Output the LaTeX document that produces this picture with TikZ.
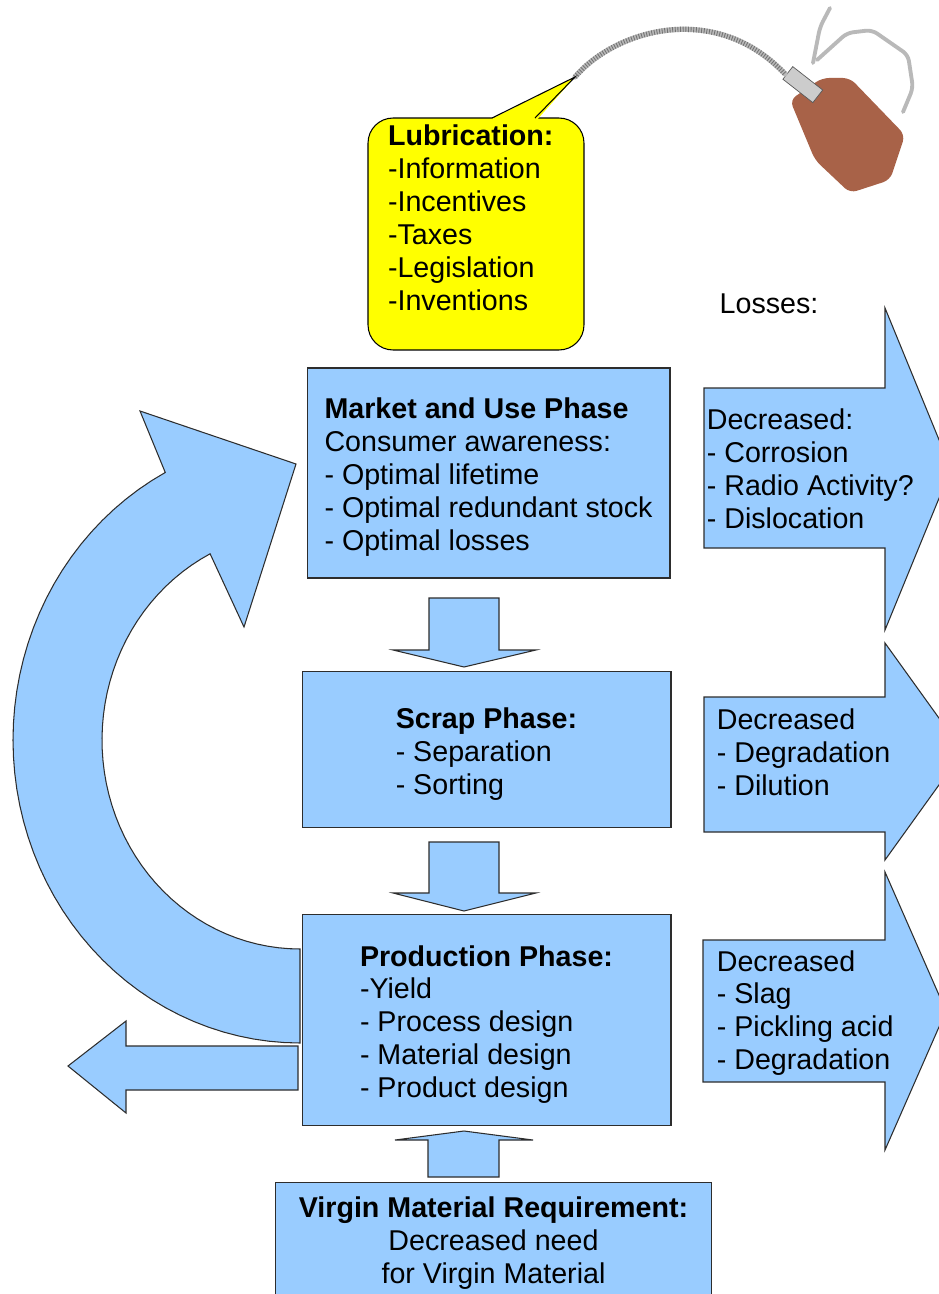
\documentclass[tikz,border=0pt]{standalone}
\usepackage{fontspec}
\setmainfont{Liberation Sans}
\usepackage{xcolor}
\usepackage{tikz}
\usetikzlibrary{positioning,calc}
\definecolor{phaseblue}{RGB}{153,204,255}
\definecolor{lubeyellow}{RGB}{255,255,0}
\definecolor{canbrown}{RGB}{168,98,72}
\definecolor{edgegray}{RGB}{45,45,45}
\tikzset{
    phase/.style={rectangle, draw=edgegray, fill=phaseblue, line width=0.6pt, align=left, inner sep=0pt, outer sep=0pt},
    bigarrow/.style={draw=edgegray, fill=phaseblue, line width=0.6pt},
    losstext/.style={align=left, inner sep=2pt, anchor=west},
    lubebox/.style={rectangle, draw=black, fill=lubeyellow, rounded corners=0.5cm, line width=0.6pt, align=left, text width=3.52cm, inner sep=0pt, outer sep=0pt},
    spoutline/.style={draw=gray!55, line width=3pt, line cap=round},
    handle/.style={draw=gray!55, line width=2.2pt, line cap=round, rounded corners=0.12cm}
}

\begin{document}
\begin{tikzpicture}[x=0.02cm, y=-0.02cm, font=\fontsize{16.3}{18.7}\selectfont]
    \useasboundingbox (0,0) rectangle (938,1294);

    % Oil can
    \coordinate (spout) at (575,77);
    \draw[handle] (813,63) -- (820,27) -- (830,8);
    \draw[handle] (817,60) -- (847,33) -- (872,30) -- (908,55) -- (913,88) -- (903,112);
    \fill[canbrown, rounded corners=0.14cm] (790,100) -- (822,78) -- (850,78) -- (905,135) -- (890,180) -- (850,193) -- (815,160) -- cycle;
    \filldraw[fill=gray!40, draw=gray!70!black, line width=0.4pt, rotate around={-38:(802,84)}] (784,76) rectangle (822,92);
    \draw[spoutline] (spout) .. controls (615,30) and (715,0) .. (785,74);
    \draw[draw=gray!90!black, line width=3pt, dash pattern=on 0.5pt off 1pt] (spout) .. controls (615,30) and (715,0) .. (785,74);

    % Lubrication callout
    \node [lubebox, minimum width=4.32cm, minimum height=4.64cm] (lubri) at (476,234) {\textbf{Lubrication:}\\-Information\\-Incentives\\-Taxes\\-Legislation\\-Inventions\\\mbox{}};
    \fill[lubeyellow] ([xshift=0.28cm,yshift=-1pt]lubri.north) -- (spout) -- ([xshift=1.22cm,yshift=-1pt]lubri.north) -- cycle;
    \draw[line width=0.6pt] ([xshift=0.32cm]lubri.north) -- (spout) -- ([xshift=1.18cm]lubri.north);

    % Recycling loop and outflow
    \draw[bigarrow] plot[domain=90:-62, samples=50, variable=\a] ({300-287*cos(\a)},{740+303*sin(\a)}) -- (140,411) -- (296,464) -- (244,627) -- plot[domain=-63:90, samples=50, variable=\a] ({300-198*cos(\a)},{740+209*sin(\a)}) -- cycle;
    \draw[bigarrow] (298,1046) -- (126,1046) -- (126,1021) -- (68,1066) -- (126,1113) -- (126,1090) -- (298,1090) -- cycle;

    % Phases
    \node [phase, minimum width=7.26cm, minimum height=4.2cm] (market) at (488.5,473) {\rule{0pt}{16.4pt}\textbf{Market and Use Phase}\\Consumer awareness:\\- Optimal lifetime\\- Optimal redundant stock\\- Optimal losses};
    \node [phase, minimum width=7.38cm, minimum height=3.12cm, below=1.88cm of market, xshift=-0.04cm] (scrap) {\rule{0pt}{16.4pt}\textbf{Scrap Phase:}\\- Separation\\- Sorting};
    \node [phase, minimum width=7.38cm, minimum height=4.22cm, below=1.74cm of scrap] (prod) {\rule{0pt}{16.4pt}\textbf{Production Phase:}\\-Yield\\- Process design\\- Material design\\- Product design};
    \node [phase, align=center, minimum width=8.74cm, minimum height=2.28cm, below=1.14cm of prod, xshift=0.14cm] (virgin) {\rule{0pt}{15.4pt}\textbf{Virgin Material Requirement:}\\Decreased need\\for Virgin Material};

    % Flow between phases
    \draw[bigarrow] (429,598) -- (429,650) -- (393,650) -- (464,667) -- (536,650) -- (499,650) -- (499,598) -- cycle;
    \draw[bigarrow] (429,842) -- (429,893) -- (393,893) -- (464,911) -- (536,893) -- (499,893) -- (499,842) -- cycle;
    \draw[bigarrow] (428,1177) -- (428,1140) -- (395,1140) -- (464,1131) -- (533,1140) -- (499,1140) -- (499,1177) -- cycle;

    % Losses
    \node (losses) at (769,304) {Losses:};
    \draw[bigarrow] (704,388) -- (885,388) -- (885,308) -- (951,469) -- (885,630) -- (885,548) -- (704,548) -- cycle;
    \draw[bigarrow] (704,697) -- (885,697) -- (885,643) -- (963,751.5) -- (885,860) -- (885,832) -- (704,832) -- cycle;
    \draw[bigarrow] (703,940) -- (885,940) -- (885,872) -- (946,1011) -- (885,1150) -- (885,1082) -- (703,1082) -- cycle;
    \node [losstext] (lossuse) at (703,469) {Decreased:\\- Corrosion\\- Radio Activity?\\- Dislocation};
    \node [losstext] (lossscrap) at (713,752) {Decreased\\- Degradation\\- Dilution};
    \node [losstext] (lossprod) at (713,1013) {Decreased\\- Slag\\- Pickling acid\\- Degradation};
\end{tikzpicture}
\end{document}
